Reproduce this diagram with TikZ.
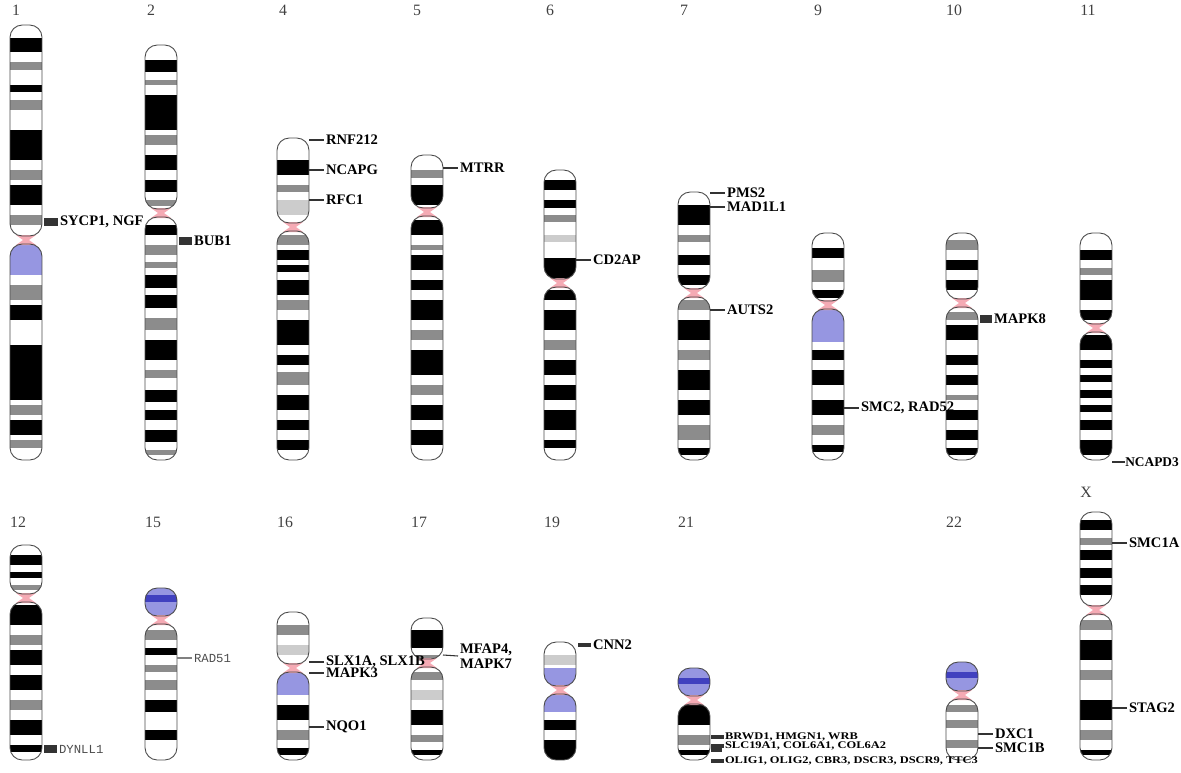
\documentclass[tikz,border=0pt]{standalone}
\usepackage{fontspec}
\setmainfont{Liberation Serif}
\setmonofont{Liberation Mono}
\usetikzlibrary{positioning}
\definecolor{bandgray}{gray}{0.55}
\definecolor{lightband}{gray}{0.8}
\definecolor{armblue}{RGB}{150,150,225}
\definecolor{cenpink}{RGB}{245,170,180}
\tikzset{
  chrnum/.style={font=\fontsize{9}{9}\selectfont, text=black!75},
  gene/.style={font=\fontsize{8.3}{8.3}\selectfont\bfseries, anchor=west, inner sep=1pt},
  smallgene/.style={font=\fontsize{5.8}{5.8}\selectfont\bfseries, anchor=west, inner sep=0.3pt, xscale=1.22, transform shape},
  monogene/.style={font=\fontsize{7}{7}\selectfont\ttfamily, text=black!70, anchor=west, inner sep=1pt},
  tick/.style={draw=black!80, line width=0.6pt},
  marker/.style={draw=black!80, line width=5pt},
  outline/.style={draw=black!70, line width=0.5pt}
}
% #1 name, #2 left x, #3 top, #4 centromere, #5 bottom, #6 bands y1/y2/colour
\newcommand{\chrom}[6]{
  \begin{scope}
    \clip[rounded corners=7] (#2,#3) rectangle (#2+32,#4-4)
                             (#2,#4+4) rectangle (#2+32,#5);
    \fill[white] (#2,#3) rectangle (#2+32,#5);
    \foreach \ya/\yb/\col in {#6} {\fill[\col] (#2,\ya) rectangle (#2+32,\yb);}
  \end{scope}
  \fill[cenpink] (#2+6,#4-5) -- (#2+26,#4-5) -- (#2+19,#4) -- (#2+26,#4+5)
                 -- (#2+6,#4+5) -- (#2+13,#4) -- cycle;
  \draw[outline, rounded corners=7] (#2,#3) rectangle (#2+32,#4-4);
  \draw[outline, rounded corners=7] (#2,#4+4) rectangle (#2+32,#5);
}
\begin{document}
\begin{tikzpicture}[x=0.02cm,y=-0.02cm]
  \useasboundingbox (0,0) rectangle (1181,772);

  % top row
  \chrom{1}{10}{25}{240}{460}{38/52/black,62/70/bandgray,85/92/black,100/110/bandgray,130/160/black,170/180/bandgray,185/205/black,215/225/bandgray,243/275/armblue,285/300/bandgray,305/320/black,345/400/black,405/415/bandgray,420/435/black,440/448/bandgray}
  \chrom{2}{145}{45}{213}{460}{60/72/black,80/85/bandgray,95/130/black,135/145/bandgray,155/170/black,180/192/black,200/206/bandgray,225/235/black,245/255/bandgray,262/268/bandgray,275/288/black,295/308/black,318/330/bandgray,340/360/black,370/378/bandgray,390/402/black,410/420/black,430/442/black,450/455/bandgray}
  \chrom{4}{277}{138}{227}{460}{160/175/black,185/192/bandgray,200/215/lightband,235/245/bandgray,250/260/black,265/272/black,280/295/black,300/310/bandgray,320/345/black,355/365/black,372/385/bandgray,395/410/black,420/430/black,440/450/black}
  \chrom{5}{411}{155}{212}{460}{170/178/bandgray,185/205/black,220/235/black,245/250/bandgray,255/270/black,280/290/black,300/320/black,330/340/bandgray,350/375/black,385/395/bandgray,405/420/black,430/445/black}
  \chrom{6}{544}{170}{283}{460}{180/190/black,200/208/black,215/222/bandgray,235/242/lightband,258/278/black,290/300/black,310/330/black,340/350/bandgray,360/375/black,385/400/black,410/430/black,440/448/black}
  \chrom{7}{678}{192}{293}{460}{205/225/black,235/242/bandgray,255/265/black,275/285/black,300/310/bandgray,320/340/black,350/360/bandgray,370/390/black,400/415/black,425/440/bandgray,448/455/black}
  \chrom{9}{812}{233}{305}{460}{248/258/black,270/282/bandgray,290/298/black,309/342/armblue,350/360/black,370/385/black,400/415/black,425/435/bandgray,445/452/black}
  \chrom{10}{946}{233}{303}{460}{240/250/bandgray,260/270/black,280/290/black,312/320/bandgray,325/340/black,355/365/black,375/385/black,395/400/bandgray,410/420/black,430/440/black,448/455/black}
  \chrom{11}{1080}{233}{328}{460}{250/260/black,268/275/bandgray,280/300/black,310/320/black,335/350/black,360/368/black,375/382/black,390/398/black,405/412/black,420/430/black,440/455/black}

  % bottom row
  \chrom{12}{10}{545}{598}{760}{555/565/black,572/578/black,585/590/bandgray,605/625/black,635/645/bandgray,650/665/black,675/690/black,700/710/bandgray,720/735/black,745/752/black}
  \chrom{15}{145}{588}{620}{760}{588/616/armblue,595/602/blue!50!gray,630/640/bandgray,648/655/black,665/672/bandgray,680/690/bandgray,700/712/black,730/740/black}
  \chrom{16}{277}{612}{668}{760}{625/635/bandgray,645/655/lightband,672/695/armblue,705/720/black,730/740/bandgray,748/755/black}
  \chrom{17}{411}{618}{663}{760}{630/648/black,655/660/bandgray,672/680/bandgray,690/700/lightband,710/725/black,735/742/bandgray,750/755/black}
  \chrom{19}{544}{642}{690}{760}{655/665/lightband,668/687/armblue,693/712/armblue,720/730/black,740/760/black}
  \chrom{21}{678}{668}{700}{760}{668/697/armblue,678/684/blue!50!gray,705/725/black,735/745/bandgray,750/755/black}
  \chrom{22}{946}{662}{695}{760}{662/692/armblue,672/678/blue!50!gray,705/712/bandgray,720/728/bandgray,740/748/bandgray}
  \chrom{X}{1080}{512}{610}{760}{520/530/black,538/545/bandgray,550/560/black,568/578/black,585/595/black,620/630/bandgray,640/660/black,670/680/bandgray,700/720/black,730/740/bandgray,750/755/black}

  % chromosome numbers
  \foreach \nm/\xx/\yy in {1/16/10,2/151/10,4/283/10,5/417/10,6/550/10,7/684/10,9/818/10,10/954/10,11/1088/10,12/18/522,15/153/522,16/285/522,17/419/522,19/552/522,21/686/522,22/954/522,X/1086/492}
    \node[chrnum] (lab\nm) at (\xx,\yy) {\nm};

  % genes, top row
  \node[gene] (sycp) at (58,222) {SYCP1, NGF};
  \coordinate (m1) at (44,222);
  \draw[marker] (m1) -- (sycp.west);
  \node[gene] (bub) at (192,241) {BUB1};
  \coordinate (m2) at (179,241);
  \draw[marker] (m2) -- (bub.west);
  \foreach \id/\yy/\txt in {rnf/140/RNF212,ncapg/170/NCAPG,rfc/200/RFC1}{
    \node[gene] (\id) at (324,\yy) {\txt};
    \coordinate (c\id) at (309,\yy);
    \draw[tick] (c\id) -- (\id.west);
  }
  \node[gene] (mtrr) at (458,168) {MTRR};
  \coordinate (cmtrr) at (443,168);
  \draw[tick] (cmtrr) -- (mtrr.west);
  \node[gene] (cd2ap) at (591,260) {CD2AP};
  \coordinate (ccd) at (576,260);
  \draw[tick] (ccd) -- (cd2ap.west);
  \foreach \id/\yy/\txt in {pms/193/PMS2,mad/207/MAD1L1,auts/310/AUTS2}{
    \node[gene] (\id) at (725,\yy) {\txt};
    \coordinate (c\id) at (710,\yy);
    \draw[tick] (c\id) -- (\id.west);
  }
  \node[gene] (smc2) at (859,408) {SMC2, RAD52};
  \coordinate (csmc2) at (844,408);
  \draw[tick] (csmc2) -- (smc2.west);
  \node[gene] (mapk8) at (992,319) {MAPK8};
  \coordinate (m10) at (980,319);
  \draw[marker] (m10) -- (mapk8.west);
  \node[gene, font=\fontsize{7.6}{7.6}\selectfont\bfseries, inner sep=0pt] (ncapd) at (1125,462) {NCAPD3};
  \coordinate (cncapd) at (1112,462);
  \draw[tick] (cncapd) -- (ncapd.west);

  % genes, bottom row
  \node[monogene] (dynll) at (57,749) {DYNLL1};
  \coordinate (m12) at (44,749);
  \draw[marker] (m12) -- (dynll.west);
  \node[monogene] (rad51) at (192,658) {RAD51};
  \coordinate (crad) at (177,658);
  \draw[tick, draw=black!50] (crad) -- (rad51.west);
  \foreach \id/\yy/\txt in {slx/662/{SLX1A, SLX1B},mapk3/673/MAPK3,nqo/727/NQO1}{
    \node[gene] (\id) at (324,\yy) {\txt};
    \coordinate (c\id) at (309,\yy);
    \draw[tick] (c\id) -- (\id.west);
  }
  \node[gene, align=left] (mfap) at (458,656) {MFAP4,\\MAPK7};
  \coordinate (cmfap) at (443,655);
  \draw[tick] (cmfap) -- (mfap.west);
  \node[gene] (cnn) at (591,645) {CNN2};
  \coordinate (ccnn) at (578,645);
  \draw[tick, line width=2pt] (ccnn) -- (cnn.west);
  \foreach \id/\yy/\txt in {brwd/737/{BRWD1, HMGN1, WRB},slc/746/{SLC19A1, COL6A1, COL6A2},olig/761/{OLIG1, OLIG2, CBR3, DSCR3, DSCR9, TTC3}}{
    \node[smallgene] (\id) at (724,\yy) {\txt};
    \coordinate (c\id) at (711,\yy);
    \draw[tick, line width=2pt] (c\id) -- (\id.west);
  }
  \coordinate (cslc2) at (711,750);
  \coordinate (slc2) at (722,750);
  \draw[tick, line width=2pt] (cslc2) -- (slc2);
  \foreach \id/\yy/\txt in {dxc/734/DXC1,smc1b/748/SMC1B}{
    \node[gene] (\id) at (993,\yy) {\txt};
    \coordinate (c\id) at (978,\yy);
    \draw[tick] (c\id) -- (\id.west);
  }
  \foreach \id/\yy/\txt in {smc1a/543/SMC1A,stag/708/STAG2}{
    \node[gene] (\id) at (1127,\yy) {\txt};
    \coordinate (c\id) at (1112,\yy);
    \draw[tick] (c\id) -- (\id.west);
  }
\end{tikzpicture}
\end{document}
